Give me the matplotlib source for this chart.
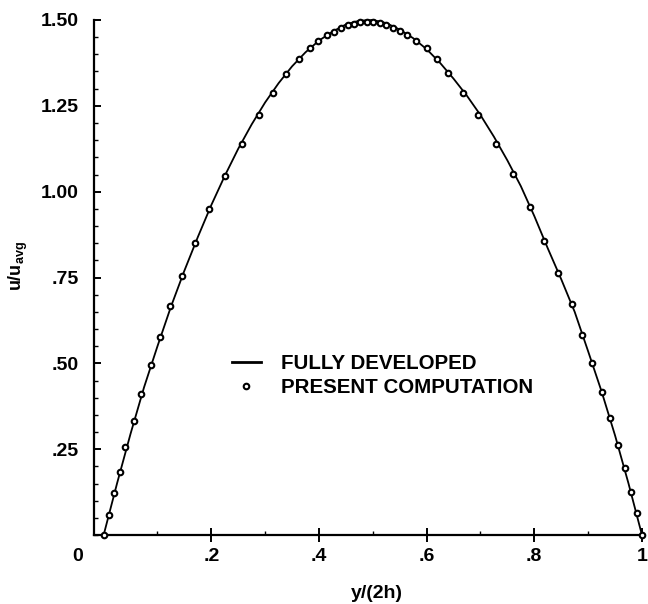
import matplotlib
matplotlib.use("Agg")
import matplotlib.pyplot as plt
from matplotlib.ticker import FixedLocator, MultipleLocator
from matplotlib.lines import Line2D

plt.rcParams['font.family'] = ['Liberation Sans', 'DejaVu Sans']
plt.rcParams['font.weight'] = 'bold'
plt.rcParams['axes.labelweight'] = 'bold'
plt.rcParams['mathtext.fontset'] = 'custom'
plt.rcParams['mathtext.rm'] = 'Liberation Sans:bold'
plt.rcParams['mathtext.it'] = 'Liberation Sans:bold'

# Fully developed profile
curve_x = [0.0, 0.025, 0.05, 0.075, 0.1, 0.125, 0.15, 0.175, 0.2, 0.225,
           0.25, 0.275, 0.3, 0.325, 0.35, 0.375, 0.4, 0.425, 0.45, 0.475,
           0.5, 0.525, 0.55, 0.575, 0.6, 0.625, 0.65, 0.675, 0.7, 0.725,
           0.75, 0.775, 0.8, 0.825, 0.85, 0.875, 0.9, 0.925, 0.95, 0.975, 1.0]
curve_y = [0.0, 0.151, 0.295, 0.430, 0.550, 0.665, 0.770, 0.868, 0.961, 1.046,
           1.125, 1.196, 1.260, 1.316, 1.365, 1.406, 1.440, 1.466, 1.487, 1.498,
           1.500, 1.491, 1.472, 1.447, 1.415, 1.375, 1.329, 1.279, 1.223, 1.160,
           1.091, 1.016, 0.929, 0.835, 0.745, 0.650, 0.535, 0.418, 0.290, 0.150, 0.0]

# Present computation
comp_x = [0.000, 0.010, 0.020, 0.031, 0.040, 0.056, 0.069, 0.088, 0.105, 0.124,
          0.145, 0.170, 0.196, 0.226, 0.257, 0.288, 0.314, 0.339, 0.362, 0.383,
          0.399, 0.414, 0.428, 0.441, 0.453, 0.465, 0.477, 0.489, 0.501, 0.513,
          0.525, 0.537, 0.550, 0.563, 0.581, 0.600, 0.619, 0.640, 0.667, 0.695,
          0.728, 0.761, 0.792, 0.818, 0.844, 0.870, 0.889, 0.908, 0.925, 0.940,
          0.956, 0.969, 0.980, 0.991, 1.000]
comp_y = [0.000, 0.058, 0.122, 0.185, 0.257, 0.333, 0.410, 0.495, 0.578, 0.667,
          0.755, 0.850, 0.950, 1.047, 1.138, 1.223, 1.288, 1.342, 1.385, 1.417,
          1.438, 1.455, 1.466, 1.476, 1.484, 1.489, 1.493, 1.495, 1.495, 1.492,
          1.486, 1.477, 1.467, 1.457, 1.438, 1.417, 1.385, 1.345, 1.288, 1.223,
          1.138, 1.052, 0.955, 0.857, 0.764, 0.673, 0.583, 0.500, 0.418, 0.340,
          0.262, 0.194, 0.126, 0.063, 0.000]

x_ticks = [0.2, 0.4, 0.6, 0.8, 1.0]
x_ticklabels = ['.2', '.4', '.6', '.8', '1']
y_ticks = [0.25, 0.5, 0.75, 1.0, 1.25, 1.5]
y_ticklabels = ['.25', '.50', '.75', '1.00', '1.25', '1.50']

fig = plt.figure(figsize=(6.48, 6.04), dpi=100)
ax = fig.add_axes([0.145, 0.1142, 0.8457, 0.8527])

ax.plot(curve_x, curve_y, color='black', lw=1.3, clip_on=False, zorder=2)
ax.plot(comp_x, comp_y, linestyle='none', marker='o', ms=4.0, mew=1.5,
        mfc='white', mec='black', clip_on=False, zorder=3)

ax.set_xlim(-0.018, 1.0)
ax.set_ylim(0, 1.5)

for s in ['top', 'right']:
    ax.spines[s].set_visible(False)
for s in ['left', 'bottom']:
    ax.spines[s].set_linewidth(1.6)

ax.xaxis.set_major_locator(FixedLocator(x_ticks))
ax.set_xticklabels(x_ticklabels)
ax.xaxis.set_minor_locator(FixedLocator([0.1, 0.3, 0.5, 0.7, 0.9]))
ax.yaxis.set_major_locator(FixedLocator(y_ticks))
ax.set_yticklabels(y_ticklabels)
ax.yaxis.set_minor_locator(MultipleLocator(0.05))

ax.tick_params(axis='x', which='major', direction='inout', length=10, width=1.4,
               pad=4, labelsize=14)
ax.tick_params(axis='x', which='minor', direction='in', length=3, width=1.0)
ax.tick_params(axis='y', which='major', direction='in', length=5, width=1.4,
               pad=11, labelsize=14)
ax.tick_params(axis='y', which='minor', direction='in', length=3, width=1.0)

ax.text(-0.0475, -0.025, '0', transform=ax.get_xaxis_transform(),
        ha='center', va='top', fontsize=14, fontweight='bold')

ax.set_xlabel('y/(2h)', fontsize=14, fontweight='bold')
ax.xaxis.set_label_coords(0.516, -0.097)
fig.text(0.028, 0.56, r'u/u$_{\mathrm{avg}}$', rotation=90, fontsize=13,
         ha='center', va='center')

handles = [Line2D([], [], color='black', lw=2.0),
           Line2D([], [], linestyle='none', marker='o', ms=4.0, mew=1.5,
                  mfc='white', mec='black')]
ax.legend(handles, ['FULLY DEVELOPED', 'PRESENT COMPUTATION'],
          loc='center left', bbox_to_anchor=(0.252, 0.31), frameon=False,
          prop={'size': 14.8, 'weight': 'bold'}, handlelength=1.4,
          handletextpad=1.0, labelspacing=0.25, borderpad=0, borderaxespad=0)

fig.savefig('out.png', dpi=100)
